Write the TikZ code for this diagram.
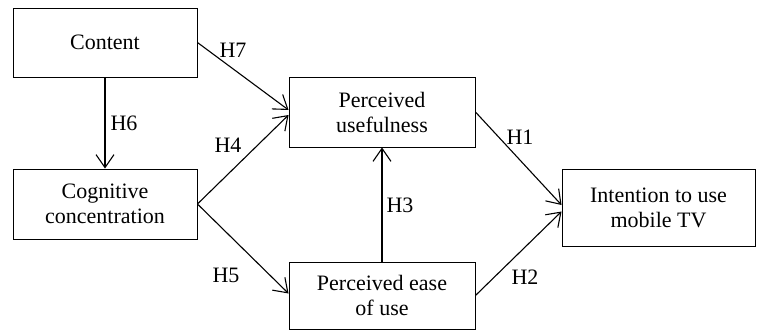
\documentclass[tikz,border=0pt]{standalone}
\usepackage{fontspec}
\setmainfont{Liberation Serif}
\usetikzlibrary{arrows.meta}

\begin{document}
\begin{tikzpicture}[x=1pt, y=-1pt,
    box/.style={draw, line width=0.9pt, align=center, inner sep=0pt, font=\fontsize{22}{25}\selectfont},
    hyp/.style={-{Straight Barb[length=13pt,width=18pt]}, line width=1.1pt},
    lab/.style={font=\fontsize{22}{25}\selectfont}]
  \useasboundingbox (0,0) rectangle (757,331);
  %constructs
  \node[box, minimum width=184pt, minimum height=69pt] (content) at (105,42.5) {Content};
  \node[box, minimum width=184pt, minimum height=70pt] (cognitive) at (105,204) {Cognitive\\concentration};
  \node[box, minimum width=186pt, minimum height=70pt] (useful) at (382,112) {Perceived\\usefulness};
  \node[box, minimum width=186pt, minimum height=67pt] (ease) at (382,295.5) {Perceived ease\\of use};
  \node[box, minimum width=193pt, minimum height=77pt] (intention) at (658.5,207.5) {Intention to use\\mobile TV};
  %hypotheses
  \draw[hyp] (content.south) -- (cognitive.north);
  \draw[hyp] (content.east) -- ([yshift=2pt]useful.west);
  \draw[hyp] (cognitive.east) -- ([yshift=-3pt]useful.west);
  \draw[hyp] (cognitive.east) -- ([yshift=2pt]ease.west);
  \draw[hyp] (ease.north) -- (useful.south);
  \draw[hyp] (useful.east) -- ([yshift=2.5pt]intention.west);
  \draw[hyp] (ease.east) -- ([yshift=-4pt]intention.west);
  \node[lab] (h1) at (520,137) {H1};
  \node[lab] (h2) at (525,277) {H2};
  \node[lab] (h3) at (400,205) {H3};
  \node[lab] (h4) at (228,145) {H4};
  \node[lab] (h5) at (226,275) {H5};
  \node[lab] (h6) at (124,123) {H6};
  \node[lab] (h7) at (233,50) {H7};
\end{tikzpicture}
\end{document}
